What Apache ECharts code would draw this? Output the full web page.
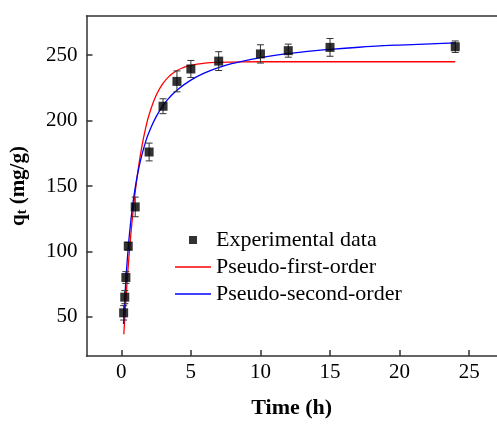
<!DOCTYPE html>
<html>
<head>
<meta charset="utf-8">
<script src="https://cdn.jsdelivr.net/npm/echarts@6/dist/echarts.min.js"></script>
<style>html,body{margin:0;padding:0;background:#fff;}#c{width:497px;height:424px;}</style>
</head>
<body>
<div id="c"></div>
<script>
// Experimental data
var expTime = [0.17, 0.25, 0.33, 0.5, 1, 2, 3, 4, 5, 7, 10, 12, 15, 24];
var expQ    = [53, 65, 80, 104, 134, 176, 211, 230, 239.5, 245.5, 251, 253.5, 256, 256.5];
var expErr  = [5.5, 5, 4.5, 3, 7.5, 6.8, 5.7, 8, 6.5, 7.2, 7, 5, 6.8, 4.4];
// Pseudo-first-order fitted curve
var pfoTime = [0.18, 0.3, 0.4, 0.5, 0.6, 0.8, 1, 1.25, 1.5, 1.75, 2, 2.5, 3, 3.5, 4, 4.5, 5, 6, 7, 8, 10, 15, 20, 24];
var pfoQ    = [36.6, 58.0, 74.1, 88.8, 102.2, 125.7, 145.4, 165.4, 181.5, 194.3, 204.5, 219.2, 228.5, 234.5, 238.3, 240.7, 242.3, 243.9, 244.6, 244.8, 245, 245, 245, 245];
// Pseudo-second-order fitted curve
var psoTime = [0.16, 0.2, 0.3, 0.4, 0.5, 0.6, 0.8, 1, 1.25, 1.5, 1.75, 2, 2.5, 3, 3.5, 4, 5, 6, 7, 8, 10, 12, 15, 18, 20, 24];
var psoQ    = [44.5, 53.4, 72.9, 89.1, 102.8, 114.6, 133.8, 148.7, 163.2, 174.6, 183.8, 191.3, 202.9, 211.5, 218.1, 223.3, 231.0, 236.5, 240.6, 243.7, 248.2, 251.3, 254.5, 256.7, 257.8, 259.5];
var xTicks = [0, 5, 10, 15, 20, 25];
var yTicks = [50, 100, 150, 200, 250];

var FONT = 'Liberation Serif';
function pairs(a, b) { return a.map(function (v, i) { return [v, b[i]]; }); }
var errData = expTime.map(function (t, i) { return [t, expQ[i] - expErr[i], expQ[i] + expErr[i]]; });

var chart = echarts.init(document.getElementById('c'), null, {renderer: 'canvas'});
var axisLineStyle = {color: '#333', width: 1.5};
var lineIcon = 'path://M0,0L36,0L36,1.3L0,1.3Z';
chart.setOption({
  animation: false,
  backgroundColor: '#fff',
  textStyle: {fontFamily: FONT, color: '#000'},
  grid: {left: 85, top: 16, right: -2, bottom: 66, containLabel: false},
  legend: {
    orient: 'vertical',
    left: 170, top: 224,
    itemWidth: 36, itemHeight: 8, itemGap: 5,
    symbolKeepAspect: true,
    textStyle: {fontFamily: FONT, fontSize: 22, color: '#000', lineHeight: 22},
    data: [
      {name: 'Experimental data', icon: 'path://M0,0L1,0L1,1L0,1Z'},
      {name: 'Pseudo-first-order', icon: lineIcon},
      {name: 'Pseudo-second-order', icon: lineIcon}
    ]
  },
  xAxis: [{
    type: 'value', min: -2.5, max: 27,
    name: 'Time (h)', nameLocation: 'middle', nameGap: 41,
    nameTextStyle: {fontFamily: FONT, fontSize: 22, fontWeight: 'bold', color: '#000'},
    axisLine: {show: true, onZero: false, lineStyle: axisLineStyle},
    axisTick: {show: true, inside: true, length: 6, customValues: xTicks, lineStyle: axisLineStyle},
    axisLabel: {customValues: xTicks, margin: 6, fontFamily: FONT, fontSize: 21, color: '#000'},
    splitLine: {show: false}
  }, {
    type: 'value', min: -2.5, max: 27, position: 'top',
    axisLine: {show: true, onZero: false, lineStyle: axisLineStyle},
    axisTick: {show: false}, axisLabel: {show: false}, splitLine: {show: false}
  }],
  yAxis: [{
    type: 'value', min: 20, max: 280,
    name: 'q{sub|t} (mg/g)', nameLocation: 'middle', nameGap: 57, nameRotate: 90,
    nameTextStyle: {fontFamily: FONT, fontSize: 21, fontWeight: 'bold', color: '#000',
      rich: {sub: {fontFamily: FONT, fontSize: 14, fontWeight: 'bold', color: '#000', verticalAlign: 'bottom', padding: [8, 0, 0, 0]}}},
    axisLine: {show: true, onZero: false, lineStyle: axisLineStyle},
    axisTick: {show: true, inside: true, length: 6, customValues: yTicks, lineStyle: axisLineStyle},
    axisLabel: {customValues: yTicks, margin: 9, fontFamily: FONT, fontSize: 21, color: '#000'},
    splitLine: {show: false}
  }],
  series: [
    {
      name: 'Pseudo-first-order', type: 'line', data: pairs(pfoTime, pfoQ),
      smooth: true, symbol: 'none', lineStyle: {color: '#ff0000', width: 1.3}, itemStyle: {color: '#ff0000'}, z: 3
    },
    {
      name: 'Pseudo-second-order', type: 'line', data: pairs(psoTime, psoQ),
      smooth: true, symbol: 'none', lineStyle: {color: '#0000ff', width: 1.3}, itemStyle: {color: '#0000ff'}, z: 3
    },
    {
      name: 'errbar', type: 'custom', data: errData, z: 4,
      renderItem: function (params, api) {
        var x = api.value(0);
        var lo = api.coord([x, api.value(1)]);
        var hi = api.coord([x, api.value(2)]);
        var w = 3.5;
        var st = {stroke: '#333', lineWidth: 1, fill: null};
        return {type: 'group', children: [
          {type: 'line', shape: {x1: lo[0], y1: lo[1], x2: hi[0], y2: hi[1]}, style: st},
          {type: 'line', shape: {x1: lo[0] - w, y1: lo[1], x2: lo[0] + w, y2: lo[1]}, style: st},
          {type: 'line', shape: {x1: hi[0] - w, y1: hi[1], x2: hi[0] + w, y2: hi[1]}, style: st}
        ]};
      }
    },
    {
      name: 'Experimental data', type: 'scatter', data: pairs(expTime, expQ),
      symbol: 'rect', symbolSize: 9, itemStyle: {color: '#000'}, z: 5
    }
  ]
});
</script>
</body>
</html>
